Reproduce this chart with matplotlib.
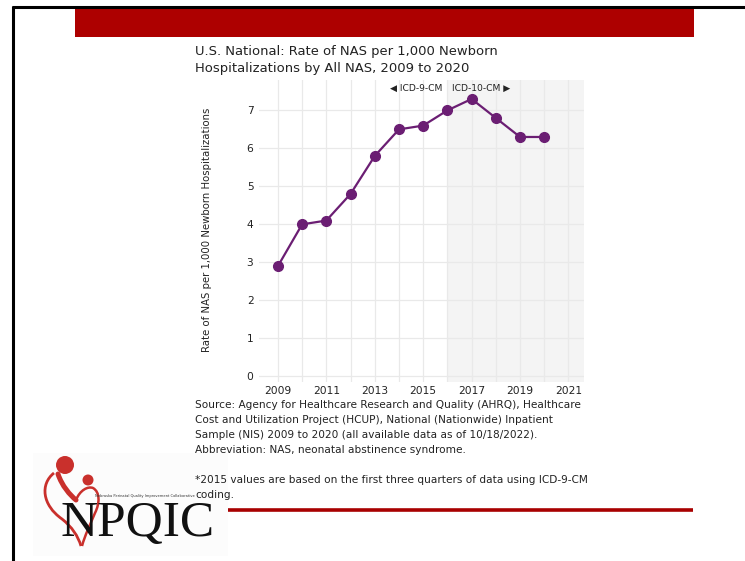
import matplotlib
matplotlib.use("Agg")
import matplotlib.pyplot as plt
from matplotlib.patches import Circle, Rectangle, PathPatch
from matplotlib.path import Path

# Rate of NAS per 1,000 newborn hospitalizations, U.S. national
years = [2009, 2010, 2011, 2012, 2013, 2014, 2015, 2016, 2017, 2018, 2019, 2020]
rates = [2.9, 4.0, 4.1, 4.8, 5.8, 6.5, 6.6, 7.0, 7.3, 6.8, 6.3, 6.3]
x_tick_years = [2009, 2011, 2013, 2015, 2017, 2019, 2021]
y_ticks = [0, 1, 2, 3, 4, 5, 6, 7]
icd10_start = 2016

W, H = 745, 561
fig = plt.figure(figsize=(W / 100, H / 100), dpi=100)
fig.patch.set_facecolor("white")

PURPLE = "#6b1e73"
GRID = "#e9e9e9"
TXT = "#222222"

# ---- chart axes ----
left, right, top, bottom = 259, 583.5, 80, 382
ax = fig.add_axes([left / W, 1 - bottom / H, (right - left) / W, (bottom - top) / H])
ax.set_xlim(2008.22, 2021.62)
ax.set_ylim(-0.15, 7.8)
ax.axvspan(icd10_start, 2021.62, color="#f4f4f4", zorder=0, lw=0)
for yr in range(2009, 2022):
    ax.axvline(yr, color=GRID, lw=0.9, zorder=1)
for v in y_ticks:
    ax.axhline(v, color=GRID, lw=0.9, zorder=1)
ax.plot(years, rates, color=PURPLE, lw=1.6, marker="o", ms=7, zorder=3)
ax.set_xticks(x_tick_years)
ax.set_xticklabels([str(y) for y in x_tick_years])
ax.set_yticks(y_ticks)
ax.tick_params(length=0, labelsize=7.7, colors=TXT)
ax.tick_params(axis="x", pad=3)
ax.tick_params(axis="y", pad=4)
for s in ax.spines.values():
    s.set_visible(False)
ax.set_facecolor("none")
ax.text(icd10_start - 0.2, 7.57, "\u25C0 ICD-9-CM", ha="right", va="center",
        fontsize=6.6, color=TXT)
ax.text(icd10_start + 0.2, 7.57, "ICD-10-CM \u25B6", ha="left", va="center",
        fontsize=6.6, color=TXT)

# ---- overlay in pixel coordinates for page decorations ----
ov = fig.add_axes([0, 0, 1, 1], zorder=-1)
ov.set_xlim(0, W)
ov.set_ylim(H, 0)
ov.axis("off")

# page frame and banner
ov.plot([12, W], [6.5, 6.5], color="black", lw=2.2, solid_capstyle="butt")
ov.plot([12.5, 12.5], [6, H], color="black", lw=2.2, solid_capstyle="butt")
ov.add_patch(Rectangle((75, 9), 619, 28, color="#ad0000", lw=0))
ov.plot([228, 693], [510, 510], color="#a80000", lw=2.6, solid_capstyle="butt")

# title
ov.text(195, 60, "U.S. National: Rate of NAS per 1,000 Newborn\nHospitalizations by All NAS, 2009 to 2020",
        ha="left", va="center", fontsize=9.45, color=TXT, linespacing=1.35)

# y-axis title
ov.text(207, 230, "Rate of NAS per 1,000 Newborn Hospitalizations", rotation=90,
        ha="center", va="center", fontsize=7.3, color=TXT)

# source notes
notes = ("Source: Agency for Healthcare Research and Quality (AHRQ), Healthcare\n"
         "Cost and Utilization Project (HCUP), National (Nationwide) Inpatient\n"
         "Sample (NIS) 2009 to 2020 (all available data as of 10/18/2022).\n"
         "Abbreviation: NAS, neonatal abstinence syndrome.\n"
         "\n"
         "*2015 values are based on the first three quarters of data using ICD-9-CM\n"
         "coding.")
ov.text(195, 399.5, notes, ha="left", va="top", fontsize=7.6, color=TXT, linespacing=1.64)

# ---- NPQIC logo ----
RED = "#c9302c"
C4 = [Path.MOVETO, Path.CURVE4, Path.CURVE4, Path.CURVE4]
ov.add_patch(Rectangle((33, 453), 195, 103, color="#fcfcfc", lw=0, zorder=0))
ov.add_patch(Circle((65, 465), 9, color=RED, lw=0))
ov.add_patch(Circle((88, 480), 5.5, color=RED, lw=0))
left_lobe = Path([(54, 473), (40, 484), (42, 505), (62, 519),
                  (72, 527), (78, 536), (81, 546)],
                 [Path.MOVETO, Path.CURVE4, Path.CURVE4, Path.CURVE4,
                  Path.CURVE4, Path.CURVE4, Path.CURVE4])
ov.add_patch(PathPatch(left_lobe, fill=False, ec=RED, lw=2.0))
body = Path([(58, 474), (62, 486), (70, 495), (76, 500)], C4)
ov.add_patch(PathPatch(body, fill=False, ec=RED, lw=3.6, capstyle="round"))
right_lobe = Path([(76, 500), (80, 490), (88, 486), (93, 488),
                   (100, 492), (100, 503), (95, 513),
                   (90, 525), (85, 535), (82, 546)],
                  [Path.MOVETO, Path.CURVE4, Path.CURVE4, Path.CURVE4,
                   Path.CURVE4, Path.CURVE4, Path.CURVE4,
                   Path.CURVE4, Path.CURVE4, Path.CURVE4])
ov.add_patch(PathPatch(right_lobe, fill=False, ec=RED, lw=1.8))
ov.text(95, 496, "Nebraska Perinatal Quality Improvement Collaborative",
        fontsize=2.6, color="#333333", ha="left", va="center")
ov.text(138, 524, "NPQIC", family="Liberation Serif", fontsize=37, color="#111111",
        ha="center", va="center")

fig.savefig("out.png", dpi=100)
